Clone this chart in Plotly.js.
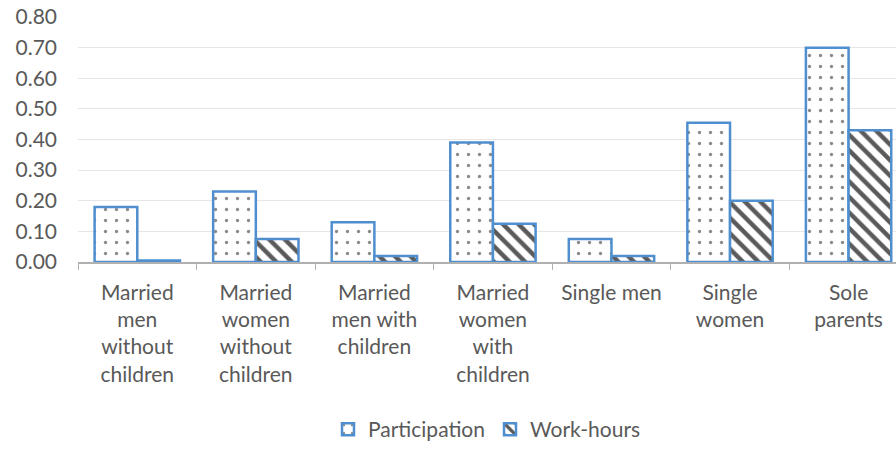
<!DOCTYPE html>
<html><head><meta charset="utf-8">
<script src="https://cdn.plot.ly/plotly-3.0.1.min.js"></script>
<style>html,body{margin:0;padding:0;background:#fff;}#chart{width:896px;height:450px;}</style>
</head><body><div id="chart"></div>
<script>
const categories = [
  "Married<br>men<br>without<br>children",
  "Married<br>women<br>without<br>children",
  "Married<br>men with<br>children",
  "Married<br>women<br>with<br>children",
  "Single men",
  "Single<br>women",
  "Sole<br>parents"
];
const participation = [0.18, 0.23, 0.13, 0.39, 0.075, 0.455, 0.70];
const workHours = [0.005, 0.075, 0.02, 0.125, 0.02, 0.20, 0.43];
const seriesNames = ["Participation", "Work-hours"];

const blue = "#4f8fcf";
const txt = "#595959";
const traces = [
  {type: "bar", name: seriesNames[0], x: categories, y: participation,
   marker: {color: "#ffffff", line: {color: blue, width: 2.5},
            pattern: {shape: ".", fgcolor: "#8a8a8a", bgcolor: "#ffffff", size: 11, solidity: 0.07}}},
  {type: "bar", name: seriesNames[1], x: categories, y: workHours,
   marker: {color: "#ffffff", line: {color: blue, width: 2.5},
            pattern: {shape: "\\", fgcolor: "#5a5a5a", bgcolor: "#ffffff", size: 11, solidity: 0.4}}}
];
const layout = {
  width: 896, height: 450,
  margin: {l: 78, r: 0, t: 17, b: 186},
  paper_bgcolor: "#fff", plot_bgcolor: "#fff",
  font: {family: "Lato, Open Sans, sans-serif", size: 20, color: txt},
  barmode: "group", bargap: 0.28, bargroupgap: 0,
  showlegend: true,
  legend: {orientation: "h", x: 0.5, xanchor: "center", y: -0.684, yanchor: "middle",
           font: {size: 21, color: txt}, traceorder: "normal", itemwidth: 30},
  xaxis: {type: "category", range: [-0.5, 6.4], showgrid: false, showline: true,
          linecolor: "#b0b0b0", linewidth: 1.5, ticks: "outside", tickson: "boundaries",
          ticklen: 6, tickcolor: "#b0b0b0", tickfont: {size: 21, color: txt},
          ticklabelstandoff: 11, fixedrange: true},
  yaxis: {range: [0, 0.8], dtick: 0.1, tickformat: ".2f", showgrid: true,
          gridcolor: "#e6e6e6", gridwidth: 1, zeroline: false, showline: false,
          ticks: "", tickfont: {size: 21, color: txt}, ticklabelstandoff: 20, fixedrange: true}
};
Plotly.newPlot("chart", traces, layout, {displayModeBar: false, staticPlot: true});
</script></body></html>
